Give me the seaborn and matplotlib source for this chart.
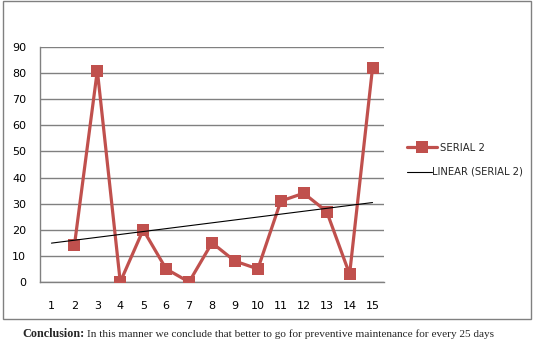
import numpy as np
import pandas as pd
import seaborn as sns
import matplotlib.pyplot as plt
from matplotlib.patches import Rectangle
from matplotlib.lines import Line2D

# data
days = [2, 3, 4, 5, 6, 7, 8, 9, 10, 11, 12, 13, 14, 15]
serial2 = [14, 81, 0, 20, 5, 0, 15, 8, 5, 31, 34, 27, 3, 82]
x_labels = [str(i) for i in range(1, 16)]
y_ticks = list(range(0, 100, 10))

red = "#C0504D"

sns.set_theme(style="white")
plt.rcParams["font.family"] = "DejaVu Sans"

W, H = 535, 344
fig = plt.figure(figsize=(W / 100, H / 100), dpi=100)
ax = fig.add_axes([40 / W, 62 / H, 344 / W, 235 / H])

df = pd.DataFrame({"day": days, "value": serial2})
sns.lineplot(data=df, x="day", y="value", ax=ax, color=red, linewidth=2.3,
             marker="s", markersize=8.5, markeredgewidth=0, zorder=3)

# linear trendline (Excel style) across the whole category axis
slope, intercept = np.polyfit(days, serial2, 1)
trend_x = np.array([1, 15])
sns.lineplot(x=trend_x, y=slope * trend_x + intercept, ax=ax, color="black",
             linewidth=0.8, zorder=4)

ax.set_xlim(0.5, 15.5)
ax.set_ylim(0, 90)
ax.set_yticks(y_ticks)
ax.set_xticks(range(1, 16))
ax.set_xticklabels(x_labels)
ax.set_xticks(np.arange(0.5, 15.6, 1), minor=True)
ax.tick_params(axis="x", which="major", length=0, pad=14, labelsize=8)
ax.tick_params(axis="x", which="minor", length=4, color="#808080", width=1, direction="out")
ax.tick_params(axis="y", length=4, color="#808080", width=1, labelsize=8, pad=6)
ax.yaxis.grid(True, color="#808080", linewidth=1)
ax.set_axisbelow(True)
for s in ["top", "right"]:
    ax.spines[s].set_visible(False)
for s in ["left", "bottom"]:
    ax.spines[s].set_color("#808080")
    ax.spines[s].set_linewidth(1)
ax.set_xlabel("")
ax.set_ylabel("")
for lbl in ax.get_xticklabels() + ax.get_yticklabels():
    lbl.set_color("black")

# legend entries placed one by one (Excel puts them at different offsets)
h_series = Line2D([], [], color=red, linewidth=2.3, marker="s", markersize=8.5, markeredgewidth=0)
h_trend = Line2D([], [], color="black", linewidth=0.8)
leg1 = fig.legend([h_series], ["SERIAL 2"], loc="center left",
                  bbox_to_anchor=(407 / W, 1 - 148 / H), frameon=False, fontsize=7.3,
                  handlelength=3.0, handletextpad=0.3, borderaxespad=0, borderpad=0)
leg2 = fig.legend([h_trend], ["LINEAR (SERIAL 2)"], loc="center left",
                  bbox_to_anchor=(407 / W, 1 - 172 / H), frameon=False, fontsize=7.2,
                  handlelength=2.5, handletextpad=0.0, borderaxespad=0, borderpad=0)

# outer chart border
fig.patches.append(Rectangle((3 / W, 1 - 319 / H), 528 / W, 318 / H, transform=fig.transFigure,
                             fill=False, edgecolor="#808080", linewidth=1))

fig.text(85 / W, 1 - 334 / H, "Conclusion:", ha="right", va="center",
         family="Liberation Serif", fontweight="bold", fontsize=8.7)
fig.text(87 / W, 1 - 334 / H,
         "In this manner we conclude that better to go for preventive maintenance for every 25 days",
         ha="left", va="center", family="Liberation Serif", fontsize=8.15)

fig.savefig("out.png", dpi=100)
